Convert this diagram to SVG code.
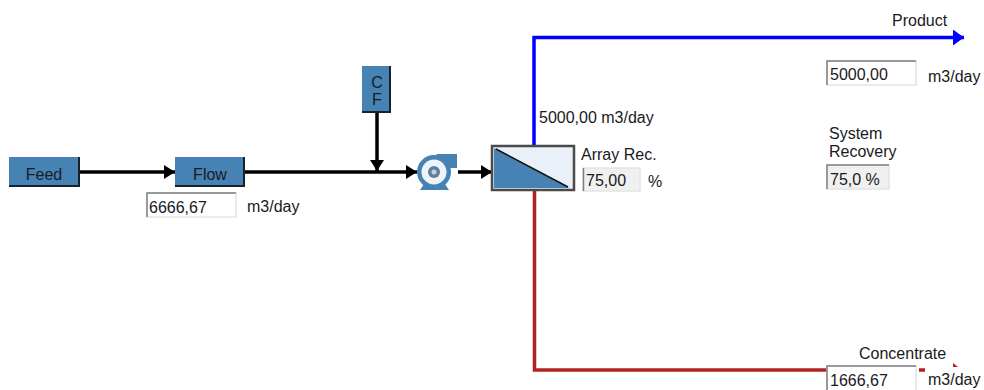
<svg xmlns="http://www.w3.org/2000/svg" width="984" height="390" viewBox="0 0 984 390">
<style>
text{font-family:"Liberation Sans",Arial,sans-serif;font-size:16px;fill:#1a1a22}
.btn{fill:#4682b4;stroke:none}
.edge{fill:none;stroke:#16222e;stroke-width:2}
.ln{fill:none;stroke-width:3.5}
.blk{stroke:#000}
.box{fill:#fff;stroke:#e4e4e4;stroke-width:1.5}
.ro{fill:#f0f0f0;stroke:#e4e4e4;stroke-width:1.5}
.in{fill:none;stroke:#808080;stroke-width:1.5}
</style>
<defs>
<marker id="a" markerUnits="userSpaceOnUse" markerWidth="12" markerHeight="14" refX="11" refY="7" orient="auto"><path d="M0 0L11 7L0 14Z" fill="#000"/></marker>
<marker id="b" markerUnits="userSpaceOnUse" markerWidth="12" markerHeight="16" refX="11" refY="8" orient="auto"><path d="M0 0L11 8L0 16Z" fill="#00f"/></marker>
<clipPath id="rc"><rect x="825" y="140" width="80" height="20"/></clipPath>
</defs>
<g id="connectors">
<path class="ln blk" d="M80 172H175" marker-end="url(#a)"/>
<path class="ln blk" d="M245 172H417" marker-end="url(#a)"/>
<path class="ln blk" d="M377 113V171" marker-end="url(#a)"/>
<path class="ln blk" d="M458 172H492" marker-end="url(#a)"/>
<path class="ln" stroke="#00f" stroke-width="4" d="M534 146V37.500H964" marker-end="url(#b)"/>
<path class="ln" stroke="#b22222" stroke-width="4" d="M534.500 191V370H828M919 370H925"/>
<path d="M953 363L958 367H953Z" fill="#b22222"/>
</g>
<g id="feed"><rect class="btn" x="9" y="157" width="71" height="30"/><path class="edge" d="M9 186H79V157"/><text x="44" y="180" text-anchor="middle">Feed</text></g>
<g id="flow"><rect class="btn" x="175" y="157" width="70" height="30"/><path class="edge" d="M175 186H244V157"/><text x="210" y="180" text-anchor="middle">Flow</text></g>
<g id="flow-value"><rect class="box" x="147" y="193" width="89" height="24"/><path class="in" d="M147 217V193H236"/><text x="149" y="213">6666,67</text><text x="247" y="212">m3/day</text></g>
<g id="cf"><rect class="btn" x="362" y="66" width="29" height="47"/><path class="edge" d="M362 112H390V66"/><text x="377" y="88" text-anchor="middle">C</text><text x="377" y="105" text-anchor="middle">F</text></g>
<g id="pump">
<path d="M436 154H457V168H448Z" fill="#4682b4"/>
<path d="M424 184H445L449 190H420Z" fill="#4682b4"/>
<circle cx="434" cy="172" r="17" fill="#4682b4"/>
<circle cx="434" cy="172" r="12.500" fill="#eef3f9"/>
<circle cx="434" cy="172" r="6" fill="#5a7f9f"/>
<circle cx="434" cy="172" r="2.500" fill="#c8d0d8"/>
</g>
<g id="membrane"><rect x="492" y="146" width="82" height="44" fill="#e9f0f8" stroke="#4a4a4a" stroke-width="2.500"/><path d="M494 148V188H569Z" fill="#4682b4"/><path d="M496 149L568 187" stroke="#111" stroke-width="1.500" fill="none"/></g>
<g id="labels">
<text x="539" y="123">5000,00 m3/day</text>
<text x="581" y="160">Array Rec.</text>
<rect class="ro" x="583" y="168" width="57" height="23"/><path d="M583.500 168V191" stroke="#808080" stroke-width="1.500"/><text x="586" y="186">75,00</text><text x="648" y="187">%</text>
<text x="892" y="26">Product</text>
<rect class="box" x="827" y="61" width="89" height="24"/><path class="in" d="M827 85V61H916"/><text x="830" y="80">5000,00</text><text x="928" y="82">m3/day</text>
<text x="829" y="139">System</text><text x="829" y="157" clip-path="url(#rc)">Recovery</text>
<rect class="ro" x="827" y="165" width="62" height="24"/><path class="in" d="M827 189V165H889"/><text x="830" y="185">75,0 %</text>
<text x="859" y="359">Concentrate</text>
<rect class="box" x="827" y="366" width="89" height="26"/><path class="in" d="M827 390V366H916"/><text x="830" y="386">1666,67</text><text x="928" y="385">m3/day</text>
</g>
</svg>
